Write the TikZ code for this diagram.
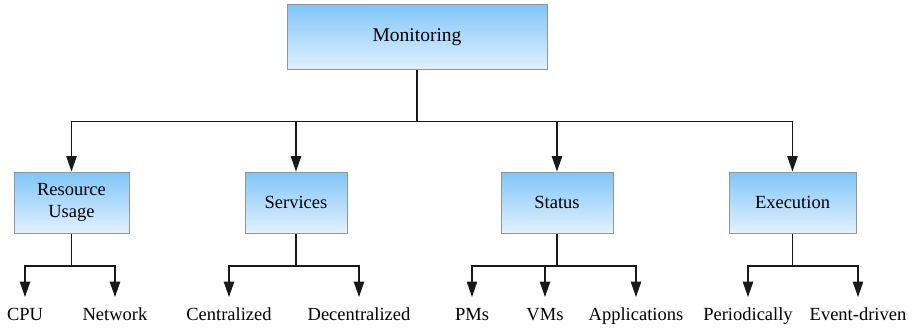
\documentclass[tikz,border=0pt]{standalone}
\usepackage{fontspec}
\setmainfont{Liberation Serif}
\usetikzlibrary{arrows.meta}
\definecolor{boxtop}{RGB}{128,198,248}
\definecolor{boxbot}{RGB}{226,241,255}
\definecolor{boxline}{RGB}{150,150,150}
\begin{document}
\begin{tikzpicture}[x=1pt,y=-1pt,
  catbox/.style={draw=boxline,line width=1pt,top color=boxtop,bottom color=boxbot,
    align=center,inner sep=0pt,font=\fontsize{18.5}{22}\selectfont},
  leaf/.style={anchor=base,inner sep=0pt,outer ysep=10pt,text height=13pt,text depth=4pt,
    font=\fontsize{18.5}{21}\selectfont},
  link/.style={line width=1.1pt,draw=black!90},
  arr/.style={link,-{Triangle[width=10.5pt,length=15.5pt]}}]
\useasboundingbox (0,0) rectangle (914,329);

% root and category boxes
\node[catbox,minimum width=260pt,minimum height=65pt,font=\fontsize{19.5}{22}\selectfont] (mon) at (417,37.5) {Monitoring};
\node[catbox,minimum width=115pt,minimum height=61pt] (ru) at (71.5,202.5) {Resource\\Usage};
\node[catbox,minimum width=102pt,minimum height=61pt] (sv) at (296,202.5) {Services};
\node[catbox,minimum width=112pt,minimum height=61pt] (st) at (557,202.5) {Status};
\node[catbox,minimum width=127pt,minimum height=61pt] (ex) at (792.5,202.5) {Execution};

% leaf labels
\node[leaf] (cpu) at (25,320) {CPU};
\node[leaf] (net) at (115,320) {Network};
\node[leaf] (cen) at (229,320) {Centralized};
\node[leaf] (dec) at (359,320) {Decentralized};
\node[leaf] (pms) at (472,320) {PMs};
\node[leaf] (vms) at (545,320) {VMs};
\node[leaf] (app) at (636,320) {Applications};
\node[leaf] (per) at (748,320) {Periodically};
\node[leaf] (evd) at (858,320) {Event-driven};

% root to categories
\draw[link] (mon.south) -- ++(0,51) coordinate (mj);
\foreach \c in {ru,sv,st,ex} \draw[arr] (mj) -| (\c);

% categories to leaves
\draw[link] (ru.south) -- ++(0,32.5) coordinate (ruj);
\draw[arr] (ruj) -| (cpu); \draw[arr] (ruj) -| (net);
\draw[link] (sv.south) -- ++(0,32.5) coordinate (svj);
\draw[arr] (svj) -| (cen); \draw[arr] (svj) -| (dec);
\draw[link] (st.south) -- ++(0,32.5) coordinate (stj);
\draw[arr] (stj) -| (pms); \draw[arr] (stj) -| (vms); \draw[arr] (stj) -| (app);
\draw[link] (ex.south) -- ++(0,32.5) coordinate (exj);
\draw[arr] (exj) -| (per); \draw[arr] (exj) -| (evd);
\end{tikzpicture}
\end{document}
